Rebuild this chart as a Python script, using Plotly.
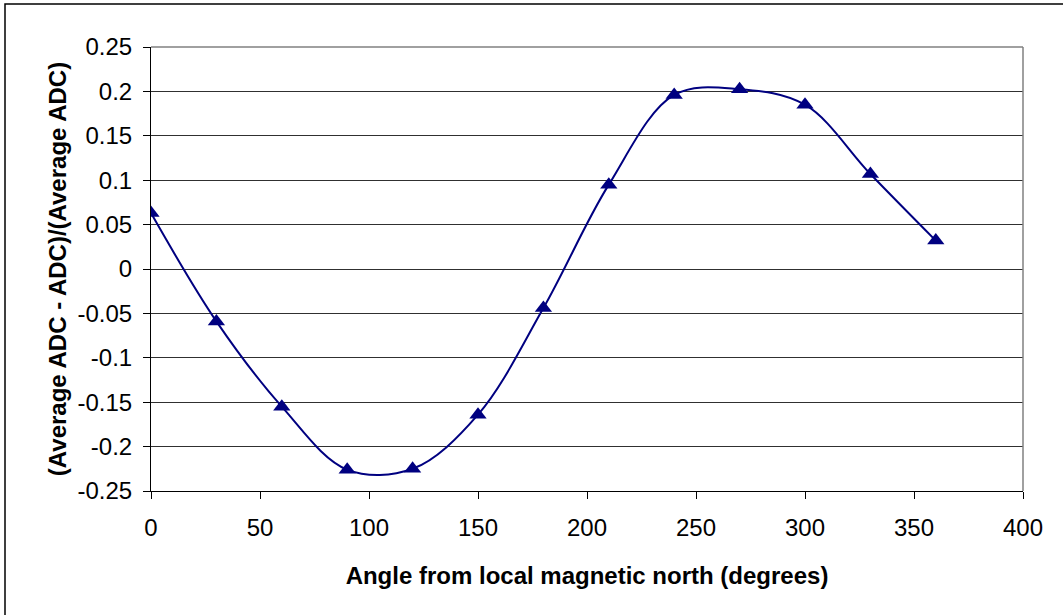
import plotly.graph_objects as go

angles = [0, 30, 60, 90, 120, 150, 180, 210, 240, 270, 300, 330, 360]
values = [0.063, -0.059, -0.155, -0.226, -0.225, -0.164, -0.044, 0.095, 0.196, 0.2025, 0.185, 0.107, 0.032]

x_ticks = [0, 50, 100, 150, 200, 250, 300, 350, 400]
y_ticks = [0.25, 0.2, 0.15, 0.1, 0.05, 0, -0.05, -0.1, -0.15, -0.2, -0.25]
y_tick_text = ["0.25", "0.2", "0.15", "0.1", "0.05", "0", "-0.05", "-0.1", "-0.15", "-0.2", "-0.25"]

x_title = "Angle from local magnetic north (degrees)"
y_title = "(Average ADC - ADC)/(Average ADC)"

W, H = 1063, 615
L, R, T, B = 151, 40, 47, 124
pw, ph = W - L - R, H - T - B

FONT = "Liberation Sans, Arial, sans-serif"

fig = go.Figure()
fig.add_trace(go.Scatter(
    x=angles, y=values, mode="lines+markers",
    line=dict(color="#000080", width=2, shape="spline", smoothing=1),
    marker=dict(symbol="triangle-up", size=15, color="#000080"),
    showlegend=False,
))

fig.update_layout(
    width=W, height=H,
    margin=dict(l=L, r=R, t=T, b=B, autoexpand=False),
    paper_bgcolor="white", plot_bgcolor="white",
    font=dict(family=FONT, size=24, color="black"),
    xaxis=dict(
        range=[0, 400], tickvals=x_ticks, ticks="outside", ticklen=7, tickwidth=1,
        tickcolor="black", showline=True, linecolor="black", linewidth=1,
        showgrid=False, zeroline=False, automargin=False,
        tickfont=dict(family=FONT, size=24, color="black"),
        ticklabelstandoff=8,
        title=dict(text=x_title, font=dict(family=FONT, size=24, color="black", weight="bold"), standoff=27),
    ),
    yaxis=dict(
        range=[-0.25, 0.25], tickvals=y_ticks, ticktext=y_tick_text, ticks="outside", ticklen=7,
        tickwidth=1, tickcolor="black", showline=True, linecolor="black", linewidth=1,
        showgrid=True, gridcolor="#303030", gridwidth=1, zeroline=False, automargin=False,
        tickfont=dict(family=FONT, size=24, color="black"),
        ticklabelstandoff=6,
        title=dict(text=y_title, font=dict(family=FONT, size=24, color="black", weight="bold"), standoff=4),
    ),
    shapes=[
        dict(type="line", xref="paper", yref="paper", x0=0, x1=1, y0=1, y1=1,
             line=dict(color="#808080", width=1.5), layer="above"),
        dict(type="line", xref="paper", yref="paper", x0=1, x1=1, y0=0, y1=1,
             line=dict(color="#808080", width=1.5), layer="above"),
        dict(type="rect", xref="paper", yref="paper",
             x0=(5 - L) / pw, x1=(1068 - L) / pw, y0=(H - 620 - B) / ph, y1=(H - 4 - B) / ph,
             line=dict(color="black", width=1.5), fillcolor="rgba(0,0,0,0)", layer="above"),
    ],
)

fig.write_html(
    "out.html",
    config={"displayModeBar": False},
    post_script="document.body.style.margin='0';document.body.style.overflow='hidden';",
)
